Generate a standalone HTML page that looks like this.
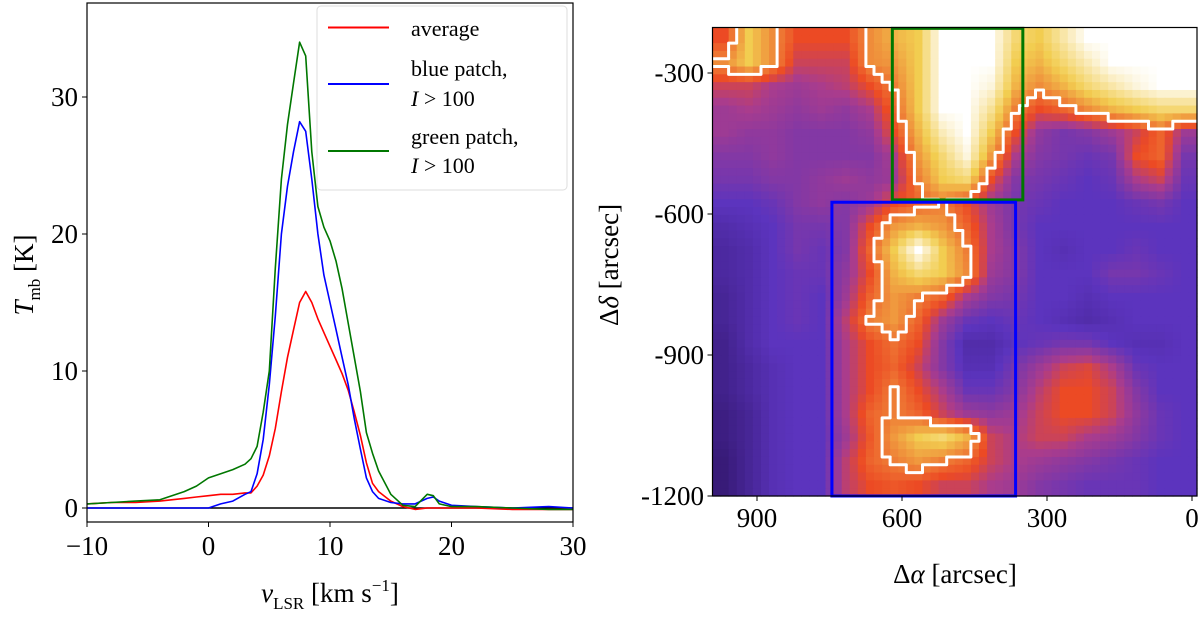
<!DOCTYPE html>
<html><head><meta charset="utf-8">
<style>
body{margin:0;background:#fff;}
svg text{font-family:"Liberation Serif","DejaVu Serif",serif;fill:#000;}
</style></head>
<body>
<svg id="fig" width="1200" height="623" viewBox="0 0 1200 623" xmlns="http://www.w3.org/2000/svg">
<g id="left"></g>
<g id="right"></g>
</svg>
<script>
// ---- spectrum data ----
const velocities = [-10,-8,-6,-4,-2,-1,0,1,2,3,3.5,4,4.5,5,5.5,6,6.5,7,7.5,8,8.5,9,9.5,10,10.5,11,11.5,12,12.5,13,13.5,14,15,16,17,18,18.5,19,20,22,25,28,30];
const averageT = [0.3,0.4,0.4,0.5,0.7,0.8,0.9,1.0,1.0,1.1,1.1,1.6,2.4,3.8,5.8,8.5,11,13,15,15.8,15,13.8,12.8,11.8,10.8,9.8,8.6,7,5.3,3.3,1.8,1.2,0.5,0.1,-0.1,0,0,0,0,0,-0.1,-0.1,-0.1];
const blueT = [0,0,0,0,0,0,0,0.3,0.5,1.0,1.2,2.5,5,9,14,20,23.5,26,28.2,27.5,24,20,17,15,13,11,9,6.5,4.3,2.2,1.2,0.7,0.4,0.3,0.3,0.7,0.8,0.5,0.2,0.1,0,0.1,0];
const greenT = [0.3,0.4,0.5,0.6,1.2,1.6,2.2,2.5,2.8,3.2,3.6,4.5,7,10,17.5,24,28,31,34,33,26,22,20.5,19.5,18,16,13.5,11,8.5,5.5,4,2.7,1,0.2,0.1,1.0,0.9,0.3,0.1,0.1,0,-0.1,-0.1];
const xTicks = [-10,0,10,20,30];
const xTickLabels = ["\u221210","0","10","20","30"];
const yTicks = [0,10,20,30];
const yTickLabels = ["0","10","20","30"];

// ---- map data (intensity levels 0..4, rows top->bottom, cols left->right) ----
const mapValues = [
[2,3,2.5,2,2,2,2.5,2.8,3,4,4,4,3.2,3,3.5,4,4,4,4,4],
[2.5,3,2.5,1.8,1.8,1.8,2.5,2.6,3,4,4,4,3,2.8,3.2,3.6,4,4,4,4],
[1.8,1.8,1.6,1.5,1.6,1.7,2,2.4,3,4,4,3.8,2.8,2.5,2.8,3.2,3.5,3.8,4,4],
[1.5,1.6,1.5,1.4,1.5,1.4,1.6,2.2,3,4,4,3.4,2.4,2,2.2,2.5,2.8,3,3.2,3.2],
[1.5,1.4,1.4,1.3,1.3,1.3,1.4,2,2.8,3.6,4,3,2,1.4,1.2,1.3,1.5,1.8,2.2,1.5],
[1.3,1.3,1.4,1.3,1.3,1.3,1.3,1.6,2.6,3.2,3.8,2.6,1.6,1.3,1.2,1.1,1.2,2,2.2,1.2],
[1.2,1.2,1.3,1.3,1.4,1.5,1.4,1.5,2.4,3,3.2,2,1.3,1.2,1.1,1,1.1,1.6,1.8,1.1],
[1,1,1.1,1.3,1.4,1.3,1.5,2,2.2,2.4,2,1.5,1.2,1.1,1,1,1,1.1,1.2,1],
[0.8,0.9,1,1.2,1.2,1.3,2,2.6,2.8,2.6,2.2,1.6,1.2,1,1,1,1,1,1,1],
[0.7,0.8,1,1.2,1.1,1.3,2.2,3,4,3,2.4,1.6,1.3,1,0.9,1,1,1.1,1,1],
[0.7,0.8,1,1.1,1.1,1.4,2,2.8,3.2,3,2.5,1.5,1.3,1,1,1,1.2,1.2,1.1,1],
[0.6,0.8,1,1.1,1,1.5,2.2,2.6,2.4,2.2,1.6,1.3,1.2,1,1,0.9,1,1,1,1],
[0.6,0.8,1,1.1,1,1.7,2.4,2.6,2.2,1.5,1.1,1,1.1,1,0.9,0.8,0.9,1,1,1],
[0.5,0.8,1,1,1,1.6,2,2.3,2,1.3,0.8,0.8,1,1.1,1.2,1.2,1,0.9,0.9,1],
[0.5,0.7,0.9,1,1,1.6,2,2.2,1.8,1.3,0.9,0.9,1.2,1.5,1.8,1.9,1.6,1.1,1,1],
[0.5,0.7,0.9,1,1,1.6,2,2.4,2,1.6,1.1,1.1,1.3,1.7,2,2,1.8,1.3,1,1],
[0.4,0.6,0.9,1,1,1.6,2.2,2.4,2.2,1.8,1.5,1.4,1.5,1.8,2,2,1.8,1.4,1.1,1],
[0.4,0.6,0.9,1,1,1.5,2.1,2.6,3,3.2,2.8,1.8,1.6,1.8,1.8,1.6,1.5,1.3,1.1,1],
[0.3,0.6,0.9,1,1,1.7,2.2,2.4,2.6,2.4,2.2,1.8,1.6,1.5,1.4,1.3,1.2,1.1,1,1],
[0.3,0.6,0.9,1,1,1.7,2,2.1,2,1.8,1.8,1.6,1.5,1.3,1.2,1.1,1.1,1.1,1,1]
];
const raTicks = [900,600,300,0];
const decTicks = [-300,-600,-900,-1200];
const greenBox = [620,350,-205,-570];   // RA left, RA right, Dec top, Dec bottom
const blueBox = [745,365,-575,-1200];

const NS="http://www.w3.org/2000/svg";
function mk(tag,attrs,parent){const e=document.createElementNS(NS,tag);for(const k in attrs)e.setAttribute(k,attrs[k]);parent.appendChild(e);return e;}

// ===== Left panel =====
const L=document.getElementById('left');
const lx0=87,lx1=573,ly0=3,ly1=522;
const xv=v=>lx0+(v+10)/40*(lx1-lx0);
const yT=t=>508-t*13.7;

const zero=mk('line',{x1:lx0,x2:lx1,y1:yT(0),y2:yT(0),stroke:'#000','stroke-width':1.5},L);



const series=[[averageT,'#ff0000','average-line'],[blueT,'#0000ff','blue-patch-line'],[greenT,'#007700','green-patch-line']];
series.forEach(([arr,col,name])=>{
  const p=mk('polyline',{points:velocities.map((v,i)=>xv(v).toFixed(1)+','+yT(arr[i]).toFixed(1)).join(' '),fill:'none',stroke:col,'stroke-width':1.6,'stroke-linejoin':'round'},L);
  
  
});
const lframe=mk('rect',{x:lx0,y:ly0,width:lx1-lx0,height:ly1-ly0,fill:'none',stroke:'#000','stroke-width':1.2},L);


xTicks.forEach((v,i)=>{
  mk('line',{x1:xv(v),x2:xv(v),y1:ly1,y2:ly1+5,stroke:'#000'},L);
  const t=mk('text',{x:xv(v),y:555,'font-size':27,'text-anchor':'middle'},L);t.textContent=xTickLabels[i];
  
  
});
yTicks.forEach((v,i)=>{
  mk('line',{x1:lx0-5,x2:lx0,y1:yT(v),y2:yT(v),stroke:'#000'},L);
  const t=mk('text',{x:78,y:yT(v)+9,'font-size':27,'text-anchor':'end'},L);t.textContent=yTickLabels[i];
  
  
});
</script>
<script>
// static labels for left panel
(function(){
const L=document.getElementById('left');
L.insertAdjacentHTML('beforeend',`
<text x="330" y="602" font-size="27" text-anchor="middle"><tspan font-style="italic">v</tspan><tspan font-size="17" dy="7">LSR</tspan><tspan dy="-7"> [km s</tspan><tspan font-size="17" dy="-11">−1</tspan><tspan dy="11">]</tspan></text>
<text transform="translate(33,275) rotate(-90)" font-size="27" text-anchor="middle"><tspan font-style="italic">T</tspan><tspan font-size="17" dy="7">mb</tspan><tspan dy="-7"> [K]</tspan></text>
<g>
<rect x="317" y="6" width="250" height="184" rx="4" fill="#fff" fill-opacity="0.85" stroke="#ddd"/>
<line x1="328" x2="389" y1="27.5" y2="27.5" stroke="#ff0000" stroke-width="2"/>
<text x="411" y="36" font-size="22">average</text>
<line x1="328" x2="389" y1="84" y2="84" stroke="#0000ff" stroke-width="2"/>
<text x="411" y="76" font-size="22">blue patch,</text>
<text x="411" y="106" font-size="22"><tspan font-style="italic">I</tspan> &gt; 100</text>
<line x1="328" x2="389" y1="151" y2="151" stroke="#007700" stroke-width="2"/>
<text x="411" y="144" font-size="22">green patch,</text>
<text x="411" y="173" font-size="22"><tspan font-style="italic">I</tspan> &gt; 100</text>
</g>`);
})();

// ===== Right panel =====
(function(){
const R=document.getElementById('right');
const rx0=712.5,rx1=1197,ry0=27.5,ry1=496;
const xra=a=>1192-a*145/300;
const ydec=d=>73+(-300-d)*141/300;
const stops=[[0,[40,16,90]],[1,[92,52,190]],[1.6,[170,60,140]],[2,[236,74,36]],[3,[242,205,80]],[4,[255,255,255]]];
function cmap(v){v=Math.max(0,Math.min(4,v));for(let i=0;i<stops.length-1;i++){const[a,ca]=stops[i],[b,cb]=stops[i+1];if(v<=b){const t=(v-a)/(b-a);return 'rgb('+ca.map((c,k)=>Math.round(c+(cb[k]-c)*t)).join(',')+')';}}return 'rgb(255,255,255)';}
const rows=mapValues.length,cols=mapValues[0].length,up=3;
const NR=rows*up,NC=cols*up;
function samp(r,c){
  const fr=Math.max(0,Math.min(rows-1,(r+0.5)/up-0.5)),fc=Math.max(0,Math.min(cols-1,(c+0.5)/up-0.5));
  const r0=Math.floor(fr),c0=Math.floor(fc),r1=Math.min(rows-1,r0+1),c1=Math.min(cols-1,c0+1),tr=fr-r0,tc=fc-c0;
  return mapValues[r0][c0]*(1-tr)*(1-tc)+mapValues[r0][c1]*(1-tr)*tc+mapValues[r1][c0]*tr*(1-tc)+mapValues[r1][c1]*tr*tc;}
const grid=[];for(let r=0;r<NR;r++){grid.push([]);for(let c=0;c<NC;c++)grid[r].push(samp(r,c));}
const cw=(rx1-rx0)/NC,ch=(ry1-ry0)/NR;
const hm=document.createElementNS(NS,'g');R.appendChild(hm);


for(let r=0;r<NR;r++)for(let c=0;c<NC;c++){
  mk('rect',{x:(rx0+c*cw).toFixed(2),y:(ry0+r*ch).toFixed(2),width:(cw+0.6).toFixed(2),height:(ch+0.6).toFixed(2),fill:cmap(grid[r][c])},hm);
}
const thr=2.35;let d='';
for(let r=0;r<NR;r++)for(let c=0;c<NC;c++){
  if(grid[r][c]<thr)continue;
  const x=rx0+c*cw,y=ry0+r*ch;
  if(r>0&&grid[r-1][c]<thr)d+=`M${x.toFixed(1)},${y.toFixed(1)}h${cw.toFixed(1)}`;
  if(r<NR-1&&grid[r+1][c]<thr)d+=`M${x.toFixed(1)},${(y+ch).toFixed(1)}h${cw.toFixed(1)}`;
  if(c>0&&grid[r][c-1]<thr)d+=`M${x.toFixed(1)},${y.toFixed(1)}v${ch.toFixed(1)}`;
  if(c<NC-1&&grid[r][c+1]<thr)d+=`M${(x+cw).toFixed(1)},${y.toFixed(1)}v${ch.toFixed(1)}`;
}
const ct=mk('path',{d:d,fill:'none',stroke:'#fff','stroke-width':3,'stroke-linecap':'round'},R);


const gb=mk('rect',{x:xra(greenBox[0]),y:ydec(greenBox[2]),width:xra(greenBox[1])-xra(greenBox[0]),height:ydec(greenBox[3])-ydec(greenBox[2]),fill:'none',stroke:'#007700','stroke-width':3},R);


const bb=mk('rect',{x:xra(blueBox[0]),y:ydec(blueBox[2]),width:xra(blueBox[1])-xra(blueBox[0]),height:ydec(blueBox[3])-ydec(blueBox[2]),fill:'none',stroke:'#0000ff','stroke-width':3},R);


const fr=mk('rect',{x:rx0,y:ry0,width:rx1-rx0,height:ry1-ry0,fill:'none',stroke:'#000','stroke-width':1.2},R);


raTicks.forEach(a=>{
  mk('line',{x1:xra(a),x2:xra(a),y1:ry1,y2:ry1+5,stroke:'#000'},R);
  const t=mk('text',{x:xra(a),y:527,'font-size':27,'text-anchor':'middle'},R);t.textContent=String(a);
  
  
});
decTicks.forEach(v=>{
  mk('line',{x1:rx0-5,x2:rx0,y1:ydec(v),y2:ydec(v),stroke:'#000'},R);
  const t=mk('text',{x:704,y:ydec(v)+9,'font-size':27,'text-anchor':'end'},R);t.textContent=String(v);
  
  
});
R.insertAdjacentHTML('beforeend',`
<text x="955" y="583" font-size="27" text-anchor="middle">Δ<tspan font-style="italic">α</tspan> [arcsec]</text>
<text transform="translate(618,265) rotate(-90)" font-size="27" text-anchor="middle">Δ<tspan font-style="italic">δ</tspan> [arcsec]</text>`);
})();
</script>
</body></html>
